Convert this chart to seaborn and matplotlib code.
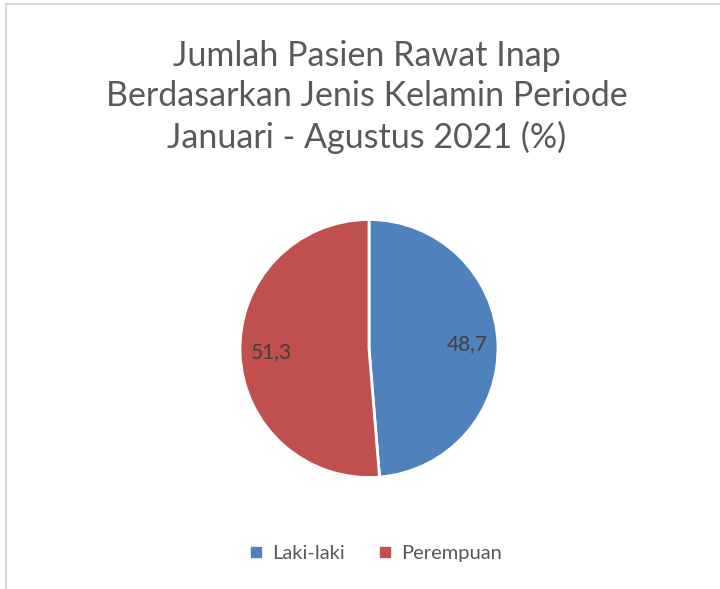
import matplotlib
matplotlib.use("Agg")
import matplotlib.pyplot as plt
import seaborn as sns
from matplotlib.patches import Rectangle
from matplotlib.lines import Line2D

# data
categories = ["Laki-laki", "Perempuan"]
values = [48.7, 51.3]
title = "Jumlah Pasien Rawat Inap\nBerdasarkan Jenis Kelamin Periode\nJanuari - Agustus 2021 (%)"

sns.set_theme(style="white")
plt.rcParams["font.family"] = ["Lato", "DejaVu Sans"]
colors = sns.color_palette(["#4F81BD", "#C0504D"])

W, H = 720, 589
fig = plt.figure(figsize=(W / 100, H / 100), dpi=100)
fig.patch.set_facecolor("white")

# chart frame (only top and left edges are visible in the crop)
fig.patches.append(Rectangle((6 / W, -0.1), 2, 1.1 - 4 / H, transform=fig.transFigure,
                             fill=False, edgecolor="#D9D9D9", lw=1.5))

# pie axes: centre (369, 348.5), radius 129 px
cx, cy, r = 369, 348.5, 129
ax = fig.add_axes([(cx - r) / W, 1 - (cy + r) / H, 2 * r / W, 2 * r / H])
wedges, texts, autotexts = ax.pie(
    values, colors=colors, startangle=90, counterclock=False,
    autopct=lambda p: f"{p:.1f}".replace(".", ","), pctdistance=0.76,
    wedgeprops=dict(edgecolor="white", linewidth=2),
    textprops=dict(color="#404040", fontsize=15))
ax.set_xlim(-1, 1)
ax.set_ylim(-1, 1)
ax.set_aspect("equal")
ax.axis("off")

fig.text(367 / W, 1 - 97 / H, title, ha="center", va="center", fontsize=24.5,
         color="#595959", linespacing=1.3)

handles = [Line2D([], [], marker="s", linestyle="", markersize=7, color=c) for c in colors]
fig.legend(handles, categories, loc="center", bbox_to_anchor=(376 / W, 1 - 553 / H),
           ncol=2, frameon=False, fontsize=14.5, handlelength=0.6, handletextpad=0.5,
           columnspacing=1.7, labelcolor="#595959")

fig.savefig("out.png", dpi=100)
